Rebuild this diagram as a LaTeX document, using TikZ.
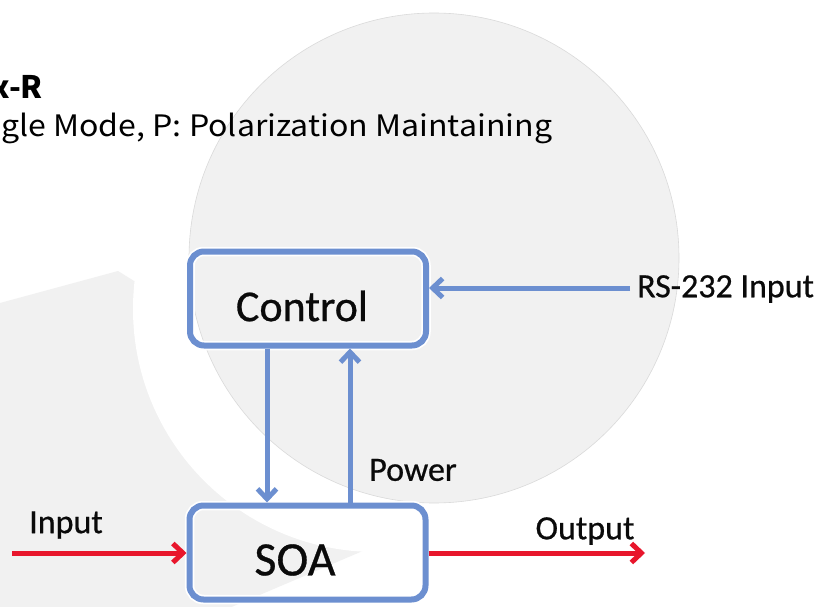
\documentclass[tikz,border=0pt]{standalone}
\usepackage{fontspec}
\usepackage{graphicx}
\setmainfont{Carlito}[FakeBold=0.6]
\newfontfamily\jpfont{Noto Sans CJK JP}
\usetikzlibrary{arrows.meta}
\definecolor{bgray}{RGB}{241,241,241}
\definecolor{edgegray}{RGB}{218,218,218}
\definecolor{boxblue}{RGB}{108,143,208}
\definecolor{sigred}{RGB}{232,22,44}
\definecolor{txtdark}{RGB}{10,10,10}
\begin{document}
\begin{tikzpicture}[x=1pt,y=-1pt,
  blk/.style={draw=boxblue, line width=6pt, rounded corners=14pt,
    minimum width=236pt, minimum height=94pt, inner sep=0pt,
    preaction={draw=white, line width=9.5pt}},
  lbl/.style={inner sep=0pt, text=txtdark, font=\fontsize{34}{40}\selectfont},
  big/.style={inner sep=0pt, text=txtdark},
  barrow/.style={draw=boxblue, line width=5pt,
    -{Straight Barb[length=10pt,width=19pt,line width=5pt]}},
  rarrow/.style={draw=sigred, line width=5pt,
    -{Straight Barb[length=10pt,width=19pt,line width=5pt]}}]
\useasboundingbox (0,0) rectangle (820,607);
\clip (0,0) rectangle (820,607);
\fill[white] (0,0) rectangle (820,607);
% background shapes
\fill[bgray] (0,303) -- (118,271) -- (300,384) -- (440,518) -- (180,629) -- (0,629) -- cycle;
\fill[white] (376,309) circle[radius=243];
\draw[edgegray, line width=0.6pt, fill=bgray] (434,258) circle[radius=245];
% title text
\node[anchor=base east, inner sep=0pt] (ttl) at (43,99)
  {\jpfont\bfseries\fontsize{31}{36}\selectfont x-R};
\node[anchor=base west, inner sep=0pt] (sub) at (1,137)
  {\resizebox{551pt}{23.5pt}{\jpfont gle Mode, P: Polarization Maintaining}};
% boxes
\node[blk] (ctrl) at (308,298.5) {};
\node[blk] (soa) at (307.5,552.5) {};
\node[big, font=\fontsize{44}{50}\selectfont] (ctrltxt) at (302,306) {Control};
\node[big, font=\fontsize{48}{54}\selectfont] (soatxt) at (295,560) {SOA};
% labels
\node[lbl, anchor=west] (rs) at (637,289) {RS-232 Input};
\node[lbl] (pw) at (413,470) {Power};
\node[lbl] (inl) at (66,525) {Input};
\node[lbl] (outl) at (585,531) {Output};
% connectors
\coordinate (rsend) at (630,288);
\coordinate (inend) at (12,553);
\coordinate (outend) at (645,553);
\coordinate (dnx) at (267,0);
\coordinate (upx) at (350,0);
\draw[barrow] (rsend) -- (ctrl.east |- rsend);
\draw[barrow] (ctrl.south -| dnx) -- (soa.north -| dnx);
\draw[barrow] (soa.north -| upx) -- (ctrl.south -| upx);
\draw[rarrow] (inend) -- (soa.west |- inend);
\draw[rarrow] (soa.east |- outend) -- (outend);
\end{tikzpicture}
\end{document}
